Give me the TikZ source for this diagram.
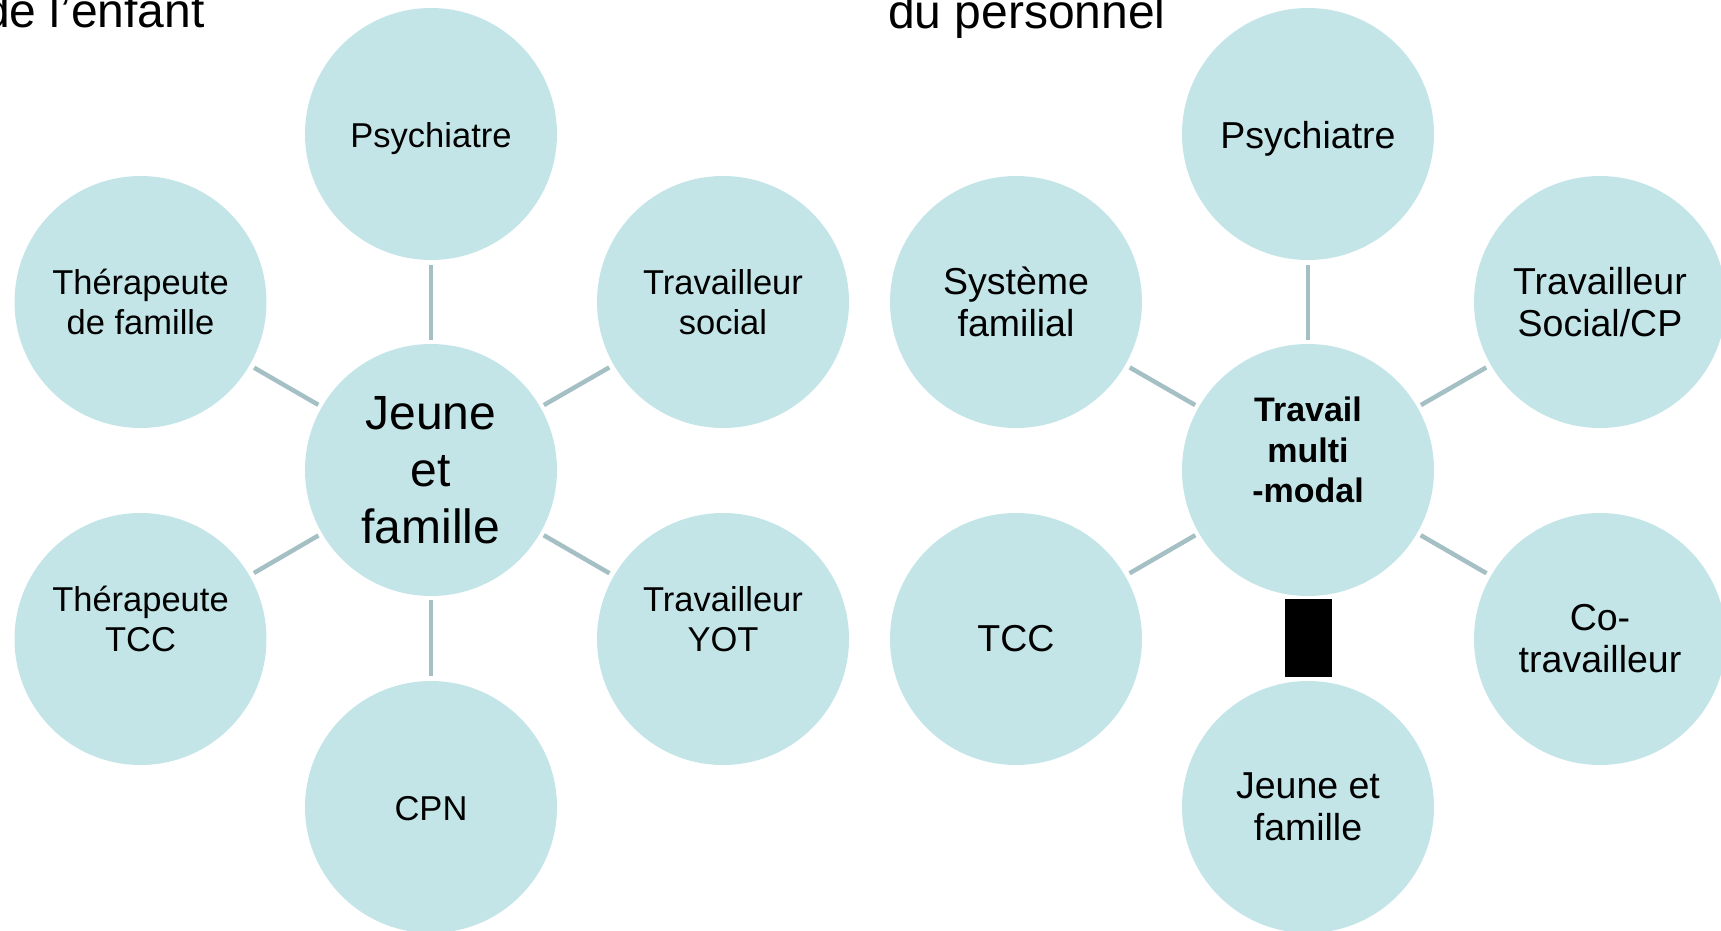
\documentclass[tikz,border=0pt]{standalone}
\usepackage{fontspec}
\setmainfont{Liberation Sans}
\definecolor{bubblefill}{RGB}{195,229,232}
\definecolor{linkgray}{RGB}{165,192,197}
\begin{document}
\begin{tikzpicture}[x=1pt,y=-1pt,
  bubble/.style={circle, fill=bubblefill, minimum size=252pt, inner sep=0pt, text=black},
  multi/.style={align=center},
  smalltxt/.style={font=\fontsize{34.5}{40}\selectfont},
  midtxt/.style={font=\fontsize{37.5}{42}\selectfont},
  capcentred/.style={text depth=0pt},
  link/.style={draw=linkgray, line width=4.5pt, shorten <=5pt, shorten >=4pt},
  titletxt/.style={font=\fontsize{48}{56}\selectfont, inner sep=0pt},
]
\useasboundingbox (0,0) rectangle (1721,931);
\clip (0,0) rectangle (1721,931);

% headings, partly cut by the top edge
\node[titletxt, anchor=base east] (tl) at (205,28) {de l’enfant};
\node[titletxt, anchor=base west] (tr) at (888,29) {du personnel};

% left cluster
\node[bubble, multi, font=\fontsize{48}{57}\selectfont] (jf) at (431,470) {Jeune\\et\\famille};
\node[bubble, smalltxt, capcentred, text height=27.4pt] (psyL) at (431,134) {Psychiatre};
\node[bubble, multi, smalltxt] (thf) at (140.5,302) {Thérapeute\\de famille};
\node[bubble, multi, smalltxt] (tso) at (723,302) {Travailleur\\social};
\node[bubble, multi, smalltxt] (ttc) at (140.5,639) {Thérapeute\\TCC\\\mbox{}};
\node[bubble, multi, smalltxt] (yot) at (723,639) {Travailleur\\YOT\\\mbox{}};
\node[bubble, smalltxt, capcentred, text height=27.4pt] (cpn) at (431,807) {CPN};

\draw[link] (psyL) -- (jf);
\draw[link] (thf) -- (jf);
\draw[link] (tso) -- (jf);
\draw[link] (ttc) -- (jf);
\draw[link] (yot) -- (jf);
\draw[link] (cpn) -- (jf);

% right cluster
\node[bubble, multi, font=\bfseries\fontsize{34}{40.6}\selectfont] (mm) at (1308,470) {Travail\\multi\\-modal\\\mbox{}};
\node[bubble, midtxt, capcentred, text height=30pt] (psyR) at (1308,134) {Psychiatre};
\node[bubble, multi, midtxt] (sys) at (1016,302) {Système\\familial};
\node[bubble, multi, midtxt] (tsc) at (1600,302) {Travailleur\\Social/CP};
\node[bubble, midtxt] (tcc) at (1016,639) {TCC};
\node[bubble, multi, midtxt] (cot) at (1600,639) {Co-\\travailleur};
\node[bubble, multi, midtxt] (jfR) at (1308,807) {Jeune et\\famille};

\draw[link] (psyR) -- (mm);
\draw[link] (sys) -- (mm);
\draw[link] (tsc) -- (mm);
\draw[link] (tcc) -- (mm);
\draw[link] (cot) -- (mm);
\draw[black, line width=47pt, shorten <=3pt, shorten >=4pt] (mm) -- (jfR);
\end{tikzpicture}
\end{document}
